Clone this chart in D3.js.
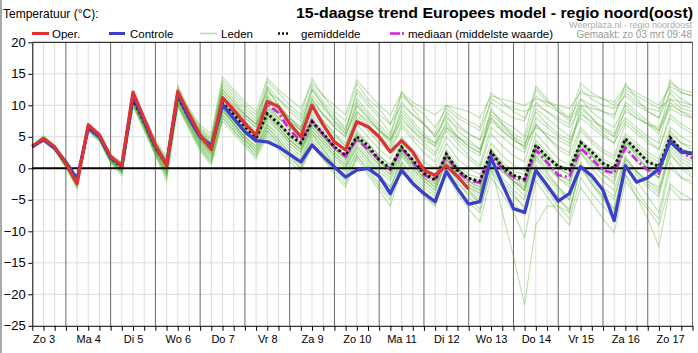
<!DOCTYPE html>
<html><head><meta charset="utf-8">
<script src="https://cdn.jsdelivr.net/npm/d3@7"></script>
<style>body{margin:0;background:#fff;} svg{display:block;font-family:"Liberation Sans",Arial,sans-serif;}</style>
</head><body><svg id="c" width="698" height="353"></svg>
<script>
// 6-hourly steps, step 0 = Zo 3 06:00, step 59 = Ma 18 00:00
const dagen = ["Zo 3","Ma 4","Di 5","Wo 6","Do 7","Vr 8","Za 9","Zo 10","Ma 11","Di 12","Wo 13","Do 14","Vr 15","Za 16","Zo 17"];
const yTicks = [20,15,10,5,0,-5,-10,-15,-20,-25];

const oper = [3.5,4.7,3.4,0.8,-2.4,6.9,5.3,1.9,0.4,12.1,7.9,3.7,0.4,12.2,8.6,5.3,3.0,11.2,9.3,7.1,5.3,10.6,9.8,7.1,5.0,10.0,6.9,4.2,2.9,7.4,6.6,5.0,2.6,4.4,2.6,-0.3,-1.1,0.4,-1.3,-3.3];

const controle = [3.4,4.5,3.2,1.0,-1.7,6.4,5.0,1.7,0.4,11.6,7.5,3.5,0.6,11.8,8.0,5.0,3.6,10.1,7.9,5.8,4.4,4.2,3.4,2.2,1.0,3.7,1.9,0.2,-1.4,-0.3,0.0,-1.3,-4.0,-0.3,-2.4,-4.0,-5.3,-0.5,-3.2,-5.7,-5.3,1.7,-2.5,-6.4,-7.0,-0.3,-2.7,-5.2,-4.0,0.25,-1.2,-3.5,-8.3,0.4,-2.2,-1.5,-0.1,4.2,2.6,2.4];

const gemiddelde = [3.5,4.7,3.3,0.7,-2.0,6.6,5.0,1.6,0.2,11.0,7.3,3.3,0.5,11.3,8.0,5.0,3.2,10.3,8.5,6.6,4.8,8.7,7.1,5.3,4.0,7.4,5.5,3.4,2.1,5.0,3.6,1.3,0.0,3.4,1.3,-0.8,-1.8,2.3,-0.3,-1.6,-2.0,2.6,0.3,-1.1,-1.7,3.7,1.8,0.3,-0.3,4.1,2.6,0.8,0.0,4.7,2.9,1.0,0.3,4.9,2.9,2.1];

const mediaan = [3.5,4.7,3.3,0.8,-2.0,6.7,5.1,1.6,0.3,11.2,7.5,3.3,0.5,11.5,8.2,5.1,3.2,10.5,9.0,7.3,5.0,10.2,8.8,6.1,4.3,7.6,5.3,3.4,1.9,4.6,3.0,1.5,-0.2,3.2,1.0,-1.0,-2.0,2.0,-0.6,-1.9,-2.3,2.2,-0.2,-1.4,-2.0,2.9,1.0,-1.1,-1.4,3.2,1.5,-0.3,-0.8,3.3,1.3,-0.3,-0.8,4.5,2.5,1.6];

const leden = [
[3.6,5.2,3.6,1.0,-1.2,7.0,5.4,2.0,0.8,11.5,8.0,4.2,1.5,12.8,9.2,6.5,5.0, 13.5,11.5,9.5,8.0,13.8,12.0,10.0,8.5,14.2,11.5,9.0,7.5,13.5,11.0,9.5,7.0,11.5,10.0,8.5,6.5,9.5,8.0,7.0,6.0,10.5,9.0,8.0,7.5,12.5,10.5,9.5,8.0,11.0,10.0,9.0,8.5,12.0,10.5,9.5,9.0,13.5,12.5,12.0],
[3.4,4.9,3.5,0.9,-1.5,6.8,5.3,1.9,0.5,11.8,7.8,3.8,0.9,12.0,8.8,5.8,4.2, 12.5,10.5,8.5,7.0,12.8,10.0,8.0,6.5,13.0,10.5,8.5,6.0,12.0,10.0,8.0,5.5,10.5,8.5,7.0,5.0,8.0,6.5,5.5,4.5,11.0,10.0,9.5,9.0,10.0,9.0,8.0,7.0,12.5,11.0,10.0,9.5,11.5,10.0,9.0,8.0,14.0,12.0,11.5],
[3.5,5.0,3.4,0.6,-1.8,6.5,5.0,1.5,0.0,10.5,7.2,3.6,1.2,12.5,9.0,6.0,4.5, 14.0,12.0,10.0,8.5,12.0,11.0,9.5,8.0,12.5,10.0,8.0,6.5,11.0,9.0,7.0,5.0,12.2,9.5,7.0,5.0,8.5,6.0,4.5,3.0,9.0,7.5,6.5,5.0,13.0,11.0,9.0,7.5,10.0,9.5,9.0,8.0,13.5,11.0,9.0,8.0,12.0,10.0,9.5],
[3.3,4.5,3.1,0.5,-2.3,6.3,4.8,1.4,0.2,11.2,7.5,3.3,0.2,11.0,7.8,4.8,3.0, 11.5,9.5,8.0,6.5,12.5,10.0,8.0,6.0,11.0,8.5,6.5,5.0,10.0,8.0,6.0,4.0,9.0,7.0,5.0,3.5,7.5,5.0,3.5,2.5,8.0,6.0,4.5,3.5,9.0,7.0,5.5,4.5,8.0,6.5,5.0,4.0,9.5,8.0,7.0,6.0,10.0,9.0,8.0],
[3.6,4.8,3.2,0.7,-2.1,6.9,5.2,1.6,0.3,11.4,7.6,3.4,0.7,11.8,8.5,5.5,3.8, 12.0,10.0,8.5,7.0,10.5,9.0,7.5,6.0,12.5,10.0,7.5,5.5,9.0,7.0,5.0,3.5,8.0,6.0,4.0,2.5,6.5,4.5,3.0,2.0,9.5,7.0,5.0,3.0,7.0,5.0,3.5,2.5,10.0,8.0,6.0,5.0,8.0,6.5,5.0,4.0,11.0,9.5,9.0],
[3.4,4.6,3.3,0.8,-1.9,6.6,5.0,1.7,0.4,10.8,7.0,3.0,0.3,11.2,7.6,4.5,2.6, 10.5,8.5,7.0,5.5,11.5,9.0,7.0,5.0,10.0,7.5,5.5,3.5,8.5,6.5,4.5,3.0,7.0,5.0,3.5,2.0,6.0,4.0,2.0,0.5,6.5,5.0,3.5,2.5,8.0,6.5,5.0,4.0,9.0,7.0,5.5,4.0,7.5,6.0,4.5,3.0,8.5,7.0,6.0],
[3.5,4.7,3.3,0.6,-2.2,6.6,5.0,1.5,0.0,11.0,7.2,3.2,0.4,11.3,8.0,5.0,3.2, 10.5,8.5,6.5,4.5,9.0,7.5,5.5,4.0,8.0,6.0,3.5,2.0,5.5,4.0,2.0,0.5,4.0,2.0,0.0,-1.0,3.0,0.5,-1.0,-1.5,3.0,1.0,-0.5,-1.0,4.0,2.0,0.5,0.0,4.5,3.0,1.5,0.5,5.0,3.5,2.0,1.0,5.5,4.0,3.0],
[3.5,4.6,3.2,0.5,-2.5,6.4,4.9,1.4,-0.2,10.7,7.0,3.0,0.0,11.0,7.5,4.5,2.5, 10.0,8.0,6.0,4.5,8.0,6.5,4.5,3.0,7.0,5.0,3.0,1.5,4.5,3.0,1.0,0.0,3.0,1.0,-0.5,-1.5,2.5,0.0,-1.5,-2.5,2.0,0.5,-1.0,-2.0,3.0,1.5,0.0,-1.0,3.5,2.0,0.5,-0.5,4.0,2.5,1.0,0.0,5.0,3.0,2.0],
[3.4,4.7,3.4,0.8,-1.8,6.7,5.1,1.7,0.3,11.2,7.4,3.4,0.6,11.5,8.2,5.1,3.3, 11.0,9.0,7.0,5.0,9.5,7.5,5.0,3.5,7.5,5.5,3.5,2.0,6.0,4.0,2.0,0.5,3.5,1.5,0.0,-1.5,2.0,0.0,-1.5,-2.5,2.5,0.5,-1.0,-2.0,4.5,2.5,0.5,-0.5,4.0,2.5,1.0,0.0,4.5,2.5,0.5,-0.5,6.0,4.0,3.5],
[3.5,4.8,3.3,0.7,-2.0,6.6,5.0,1.6,0.2,11.0,7.3,3.3,0.5,11.2,7.9,4.9,3.0, 9.5,7.5,5.5,4.0,8.5,6.5,4.5,3.0,6.5,4.5,2.5,1.0,5.0,3.0,1.0,-0.5,3.0,1.0,-1.0,-2.0,2.0,-0.5,-2.0,-3.0,2.0,0.0,-1.5,-2.5,3.5,1.5,0.0,-1.0,4.0,2.0,0.5,-0.5,4.5,3.0,1.5,0.5,4.5,3.0,2.5],
[3.5,4.6,3.2,0.6,-2.3,6.5,4.9,1.4,0.0,10.6,6.8,2.8,-0.2,10.8,7.4,4.2,2.2, 9.5,7.0,5.0,3.5,7.5,6.0,4.0,2.5,7.0,5.0,3.0,1.5,5.0,3.0,1.0,-0.5,3.0,0.5,-1.5,-2.5,1.5,-1.0,-2.5,-3.5,1.0,-0.5,-2.0,-3.0,2.5,0.5,-1.0,-2.0,3.0,1.0,-0.5,-1.5,3.0,1.0,-0.5,-1.5,4.0,2.0,1.0],
[3.6,4.9,3.4,0.8,-1.6,6.8,5.2,1.8,0.5,11.3,7.6,3.6,0.8,11.6,8.3,5.3,3.5, 11.0,9.0,7.0,5.5,10.0,8.0,6.0,4.5,8.5,6.5,4.5,3.0,7.0,5.0,3.0,1.5,5.0,3.0,1.0,0.0,4.0,1.5,0.0,-1.0,4.0,2.0,0.5,-0.5,5.5,3.5,1.5,0.5,6.0,4.0,2.5,1.5,5.5,4.0,2.5,1.5,6.5,5.0,4.0],
[3.4,4.5,3.0,0.4,-2.6,6.2,4.7,1.2,-0.4,10.4,6.7,2.7,-0.5,10.5,7.0,4.0,2.0, 9.0,7.0,5.0,3.0,7.0,5.0,3.0,1.5,5.5,3.5,1.5,0.0,4.0,2.0,0.0,-1.5,2.5,0.5,-1.5,-3.0,1.0,-1.5,-3.0,-4.0,1.5,-0.5,-2.0,-3.5,2.0,0.0,-1.5,-2.5,2.5,0.5,-1.0,-2.0,3.5,1.5,0.0,-1.0,4.0,2.5,1.5],
[3.5,4.6,3.1,0.4,-2.8,6.3,4.7,1.1,-0.6,10.2,6.5,2.4,-1.0,10.2,6.8,3.6,1.5, 8.5,6.5,4.5,2.5,6.0,4.0,2.0,0.5,4.5,2.5,0.5,-1.0,2.5,0.5,-1.5,-3.0,1.0,-1.0,-3.0,-4.5,0.0,-2.5,-4.0,-5.5,1.0,-1.5,-3.5,-5.0,0.5,-1.5,-3.5,-5.0,1.0,-1.5,-3.5,-5.0,1.5,-0.5,-2.0,-3.5,2.0,0.5,-1.0],
[3.4,4.4,2.9,0.2,-3.0,6.0,4.5,1.0,-0.8,10.0,6.2,2.2,-1.5,10.0,6.5,3.0,0.8, 8.0,6.0,4.0,2.0,5.5,3.5,1.5,0.0,4.0,2.0,0.0,-2.0,2.0,0.0,-2.5,-4.5,0.5,-2.0,-4.0,-6.0,-0.5,-3.5,-5.5,-7.0,0.0,-2.5,-4.5,-6.0,-0.5,-3.0,-5.0,-6.5,0.0,-2.5,-4.5,-6.5,1.0,-1.0,-3.0,-4.5,2.5,0.0,-1.5],
[3.5,4.5,3.0,0.3,-2.7,6.1,4.6,1.2,-0.5,10.3,6.6,2.5,-0.8,10.6,7.2,3.8,1.8, 9.0,7.0,4.5,3.0,6.5,4.5,2.5,1.0,5.0,3.0,0.5,-1.5,3.0,1.0,-1.5,-3.5,2.0,-0.5,-2.5,-4.0,1.5,-1.5,-3.5,-5.0,3.0,0.0,-2.5,-4.5,1.5,-1.0,-3.0,-4.5,2.5,0.0,-2.0,-3.5,2.0,-0.5,-2.5,-4.0,3.5,1.5,0.5],
[3.5,4.7,3.3,0.7,-2.1,6.5,5.0,1.5,0.1,10.9,7.2,3.2,0.3,11.0,7.8,4.8,3.0, 10.0,8.0,6.0,4.5,8.5,6.5,4.5,3.0,6.0,4.0,2.0,0.5,4.5,2.5,0.5,-1.0,2.5,0.0,-2.0,-3.5,1.5,-1.0,-3.0,-4.5,0.5,-7.0,-14.0,-21.7,-9.0,-6.0,-6.0,-7.0,0.5,-1.5,-3.0,-4.5,1.5,-0.5,-2.0,-3.0,3.0,1.0,0.0],
[3.5,4.8,3.4,0.9,-1.7,6.7,5.1,1.7,0.4,11.1,7.4,3.4,0.6,11.4,8.1,5.2,3.4, 10.5,8.5,6.5,5.0,9.0,7.0,5.0,3.5,7.0,5.0,3.0,1.5,5.5,3.5,1.5,0.0,3.5,1.5,-0.5,-2.0,2.0,0.0,-2.0,-3.5,2.5,0.0,-2.0,-3.5,2.0,-0.5,-3.0,-5.0,0.5,-2.5,-5.0,-7.0,-1.0,-4.5,-8.0,-12.4,-3.0,-5.0,-5.0],
[3.3,4.3,2.8,0.1,-3.2,5.8,4.3,0.8,-1.2,9.8,6.0,2.0,-2.0,9.8,6.2,2.8,0.5, 7.5,5.5,3.5,1.5,5.0,3.0,1.0,-0.5,3.5,1.5,-1.0,-3.0,1.5,-1.0,-3.5,-6.0,0.0,-2.5,-4.5,-6.0,-1.0,-4.0,-6.5,-8.5,-1.5,-4.0,-7.0,-11.0,-2.0,-4.5,-7.0,-9.0,-3.0,-5.5,-8.0,-10.2,-2.0,-4.5,-6.5,-9.0,-2.5,-4.0,-5.0],
[3.5,4.9,3.6,1.1,-1.4,7.1,5.6,2.2,1.0,11.8,8.3,4.5,1.8,13.2,9.5,6.8,5.5, 14.5,12.5,10.5,9.0,14.3,12.5,11.0,9.5,13.5,11.5,10.0,8.5,14.0,12.0,10.0,8.5,12.0,10.5,9.5,8.5,10.0,9.5,9.0,8.0,11.5,11.0,10.5,10.0,11.0,10.5,10.0,9.5,12.0,11.5,11.0,10.5,13.0,12.0,11.0,10.0,13.0,12.0,11.5],
[3.6,4.8,3.3,0.7,-2.0,6.7,5.1,1.7,0.3,11.1,7.5,3.5,0.8,11.6,8.4,5.4,3.6, 11.5,9.5,7.5,6.0,10.0,8.0,6.5,5.0,9.0,7.0,5.0,3.5,8.0,6.0,4.0,2.5,6.5,4.5,2.5,1.0,5.0,3.0,1.5,0.0,5.5,3.5,2.0,1.0,7.0,5.0,3.0,2.0,6.5,4.5,3.0,2.0,7.0,5.5,4.0,3.0,8.0,6.5,5.5],
[3.5,4.6,3.2,0.6,-2.4,6.4,4.8,1.3,-0.3,10.6,6.9,2.9,0.1,11.0,7.6,4.6,2.8, 9.5,7.5,5.5,4.0,8.0,6.0,4.0,2.5,6.5,4.5,2.5,0.5,5.0,2.5,0.5,-1.0,3.5,1.0,-1.0,-2.5,2.5,0.0,-2.0,-3.0,3.0,0.5,-1.5,-3.0,3.5,1.0,-1.0,-2.0,4.5,2.0,0.0,-1.0,4.0,2.0,0.0,-1.5,5.0,3.0,2.5],
[3.4,4.7,3.4,0.9,-1.6,6.8,5.3,1.9,0.6,11.5,7.9,3.9,1.1,12.0,8.6,5.6,4.0, 12.5,10.5,8.5,7.0,11.0,9.5,8.0,6.5,10.5,8.5,7.0,5.5,10.5,8.5,6.5,4.5,8.5,6.5,5.0,4.0,9.0,7.0,5.5,4.5,8.5,7.0,5.5,4.5,10.5,9.0,7.5,6.5,9.5,8.0,6.5,5.0,10.5,9.0,7.5,6.0,9.5,8.5,8.0],
[3.5,4.5,3.0,0.3,-2.9,6.1,4.6,1.1,-0.7,10.4,6.6,2.6,-0.9,10.4,7.0,3.4,1.2, 8.5,6.5,4.5,2.5,6.5,4.5,2.5,1.0,5.5,3.0,1.0,-0.5,3.5,1.5,-1.0,-3.0,2.0,0.0,-2.0,-3.5,1.0,-1.5,-3.5,-5.5,0.5,-2.0,-4.0,-6.5,0.0,-2.5,-4.5,-7.0,0.5,-2.0,-4.5,-6.5,0.5,-2.0,-4.5,-7.0,1.0,-1.5,-2.5],
[3.5,4.8,3.4,0.8,-1.9,6.7,5.1,1.6,0.3,11.0,7.4,3.5,0.7,11.4,8.1,5.2,3.3, 10.8,8.8,7.0,5.5,9.5,8.0,6.5,5.0,9.5,7.5,5.5,4.0,9.0,7.5,6.0,4.5,7.5,6.0,4.5,3.5,6.5,5.0,4.0,3.0,8.0,6.5,5.0,4.0,6.5,5.5,4.5,3.5,8.5,7.5,6.5,5.5,9.0,8.0,7.0,6.5,10.5,9.0,8.5],
[3.5,4.6,3.1,0.5,-2.5,6.3,4.8,1.3,-0.4,10.5,6.8,2.8,-0.4,10.8,7.3,4.3,2.4, 9.2,7.2,5.0,3.5,7.0,5.5,3.5,2.0,6.0,4.0,2.0,0.0,3.5,1.5,-0.5,-2.0,2.5,0.5,-1.5,-3.0,2.0,-0.5,-2.5,-4.0,2.5,0.0,-2.0,-3.5,3.0,0.5,-1.5,-3.0,3.5,1.0,-1.0,-2.5,4.5,2.0,0.0,-1.5,5.0,3.0,2.0],
[3.6,5.0,3.5,0.9,-1.6,6.9,5.4,2.0,0.7,11.6,8.1,4.1,1.3,12.4,9.0,6.2,4.6, 13.0,11.0,9.0,7.5,13.0,11.0,9.0,7.5,11.5,9.5,7.5,6.0,12.5,10.5,8.5,7.0,10.0,8.5,7.0,5.5,10.0,8.5,7.5,6.5,12.0,10.5,9.0,8.0,11.5,10.0,9.0,8.0,13.5,12.0,11.0,10.0,12.5,11.5,10.5,9.5,11.0,10.5,10.0],
[3.4,4.5,3.0,0.3,-2.8,6.0,4.5,1.0,-0.8,10.1,6.3,2.3,-1.2,10.1,6.6,3.3,1.0, 8.0,6.0,4.0,2.0,6.0,4.0,2.0,0.0,3.5,1.5,-0.5,-2.5,2.0,-0.5,-3.0,-5.0,1.0,-1.5,-3.5,-5.5,0.5,-2.0,-4.5,-6.5,-0.5,-3.0,-5.5,-7.5,-1.0,-3.5,-6.0,-8.0,-1.5,-4.0,-6.0,-8.0,-1.0,-3.5,-6.0,-8.0,0.0,-1.5,-2.0],
[3.5,4.7,3.3,0.7,-2.0,6.6,5.0,1.6,0.2,11.0,7.3,3.3,0.5,11.3,8.0,5.0,3.2, 10.2,8.2,6.2,4.6,8.6,7.0,5.2,3.8,7.4,5.4,3.3,2.0,5.0,3.5,1.2,0.0,3.5,1.2,-0.8,-1.8,2.4,-0.3,-1.6,-2.0,2.6,0.3,-1.1,-1.7,3.7,1.8,0.3,-0.3,4.1,2.6,0.8,0.0,4.7,2.9,1.0,0.3,4.9,2.9,2.1],
[3.5,4.9,3.5,1.0,-1.5,6.9,5.3,1.9,0.6,11.4,7.8,3.8,1.0,11.9,8.6,5.6,4.0, 12.0,10.0,8.0,6.5,11.5,9.5,7.5,6.0,11.0,8.5,6.5,5.0,10.0,8.0,6.0,4.5,9.5,7.5,5.5,4.0,7.0,5.0,3.5,2.5,7.5,6.0,4.5,3.5,9.5,8.0,6.5,5.0,11.0,9.0,7.5,6.5,10.0,8.5,7.0,5.5,12.5,11.0,10.0]
];

const svg = d3.select("#c");
const x = d3.scaleLinear().domain([0,59]).range([32.3,692.5]);
const y = d3.scaleLinear().domain([-25,20]).range([325.8,42.3]);
const steps = d3.range(0,60);
const dayLines = steps.filter(s => (s-3)%4===0);
const labelSteps = dagen.map((d,i)=>1+4*i);

// frame line on the left
svg.append("line").attr("x1",1).attr("x2",1).attr("y1",0).attr("y2",353).attr("stroke","#8a8a8a").attr("stroke-width",1.5);

// grid
const g = svg.append("g");
g.selectAll(".vg").data(steps.filter(s=>(s-3)%4!==0 && s>0)).join("line")
  .attr("x1",d=>x(d)).attr("x2",d=>x(d)).attr("y1",y(20)).attr("y2",y(-25))
  .attr("stroke","#dddddd").attr("stroke-width",1);
g.selectAll(".hg").data(yTicks.filter(v=>v!==20 && v!==0 && v!==-25)).join("line")
  .attr("x1",x(0)).attr("x2",x(59)).attr("y1",d=>y(d)).attr("y2",d=>y(d))
  .attr("stroke","#dddddd").attr("stroke-width",1);
g.selectAll(".dl").data(dayLines).join("line")
  .attr("x1",d=>x(d)).attr("x2",d=>x(d)).attr("y1",y(20)).attr("y2",y(-25))
  .attr("stroke","#6a6a6a").attr("stroke-width",1);

const line = d3.line().x((d,i)=>x(i)).y(d=>y(d));

// members
svg.append("g").selectAll("path").data(leden).join("path")
  .attr("d",line).attr("fill","none").attr("stroke","#4fae30")
  .attr("stroke-width",1.2).attr("stroke-opacity",0.36);

// zero line & top border
svg.append("line").attr("x1",x(0)).attr("x2",x(59)).attr("y1",y(0)).attr("y2",y(0)).attr("stroke","#000").attr("stroke-width",2);
svg.append("line").attr("x1",x(0)).attr("x2",x(59)).attr("y1",y(20)).attr("y2",y(20)).attr("stroke","#000").attr("stroke-width",1);

// median, mean, control, oper
svg.append("path").datum(mediaan).attr("d",line).attr("fill","none").attr("stroke","#cc22dd").attr("stroke-width",2.6).attr("stroke-dasharray","8,3,2,3");
svg.append("path").datum(gemiddelde).attr("d",line).attr("fill","none").attr("stroke","#111").attr("stroke-width",2.8).attr("stroke-dasharray","2.5,2.5");
svg.append("path").datum(controle).attr("d",line).attr("fill","none").attr("stroke","#3a3fcc").attr("stroke-width",3.3).attr("stroke-linejoin","round");
svg.append("path").datum(oper).attr("d",line).attr("fill","none").attr("stroke","#dd3333").attr("stroke-width",3.3).attr("stroke-linejoin","round");

// axes
const yAxis = svg.append("g").attr("transform",`translate(${x(0)},0)`)
  .call(d3.axisLeft(y).tickValues(yTicks).tickSize(4).tickSizeOuter(0).tickPadding(2.5));
yAxis.selectAll("text").attr("font-size",13).attr("font-family",'"Liberation Sans",Arial,sans-serif').attr("fill","#000");
yAxis.selectAll("line,path").attr("stroke","#000");

const xAxis = svg.append("g").attr("transform",`translate(0,${y(-25)})`)
  .call(d3.axisBottom(x).tickValues(steps).tickSize(5).tickSizeOuter(0).tickFormat(""));
xAxis.selectAll("line,path").attr("stroke","#000");
const xLab = svg.append("g").attr("transform",`translate(0,${y(-25)})`)
  .call(d3.axisBottom(x).tickValues(labelSteps).tickSize(0).tickPadding(9).tickFormat((d,i)=>dagen[i]));
xLab.select(".domain").remove();
xLab.selectAll("text").attr("font-size",11).attr("font-family",'"Liberation Sans",Arial,sans-serif').attr("fill","#000");

// titles
svg.append("text").attr("x",3).attr("y",18).attr("font-size",12).text("Temperatuur (°C):");
svg.append("text").attr("x",296).attr("y",18).attr("font-size",15).attr("font-weight","bold")
  .attr("textLength",397).attr("lengthAdjust","spacingAndGlyphs").text("15-daagse trend Europees model - regio noord(oost)");
svg.append("text").attr("x",692).attr("y",27.5).attr("text-anchor","end").attr("font-size",9).attr("fill","#aaaaaa").text("Weerplaza.nl - regio noordoost");
svg.append("text").attr("x",692).attr("y",38).attr("text-anchor","end").attr("font-size",10).attr("fill","#999999").text("Gemaakt: zo 03 mrt 09:48");

// legend
const lg = svg.append("g").attr("font-size",11.5);
const ly = 33.5, lt = 38;
lg.append("line").attr("x1",32).attr("x2",49).attr("y1",ly).attr("y2",ly).attr("stroke","#dd3333").attr("stroke-width",3);
lg.append("text").attr("x",52).attr("y",lt).text("Oper.");
lg.append("line").attr("x1",109).attr("x2",125).attr("y1",ly).attr("y2",ly).attr("stroke","#3a3fcc").attr("stroke-width",3);
lg.append("text").attr("x",130).attr("y",lt).text("Controle");
lg.append("line").attr("x1",200).attr("x2",217).attr("y1",ly).attr("y2",ly).attr("stroke","#b5dca5").attr("stroke-width",1.5);
lg.append("text").attr("x",221).attr("y",lt).text("Leden");
lg.append("line").attr("x1",278).attr("x2",290).attr("y1",ly).attr("y2",ly).attr("stroke","#111").attr("stroke-width",2.5).attr("stroke-dasharray","2,2");
lg.append("text").attr("x",301).attr("y",lt).text("gemiddelde");
lg.append("line").attr("x1",390).attr("x2",405).attr("y1",ly).attr("y2",ly).attr("stroke","#cc22dd").attr("stroke-width",2.6).attr("stroke-dasharray","10,2,2,10");
lg.append("text").attr("x",408).attr("y",lt).text("mediaan (middelste waarde)");
</script></body></html>
